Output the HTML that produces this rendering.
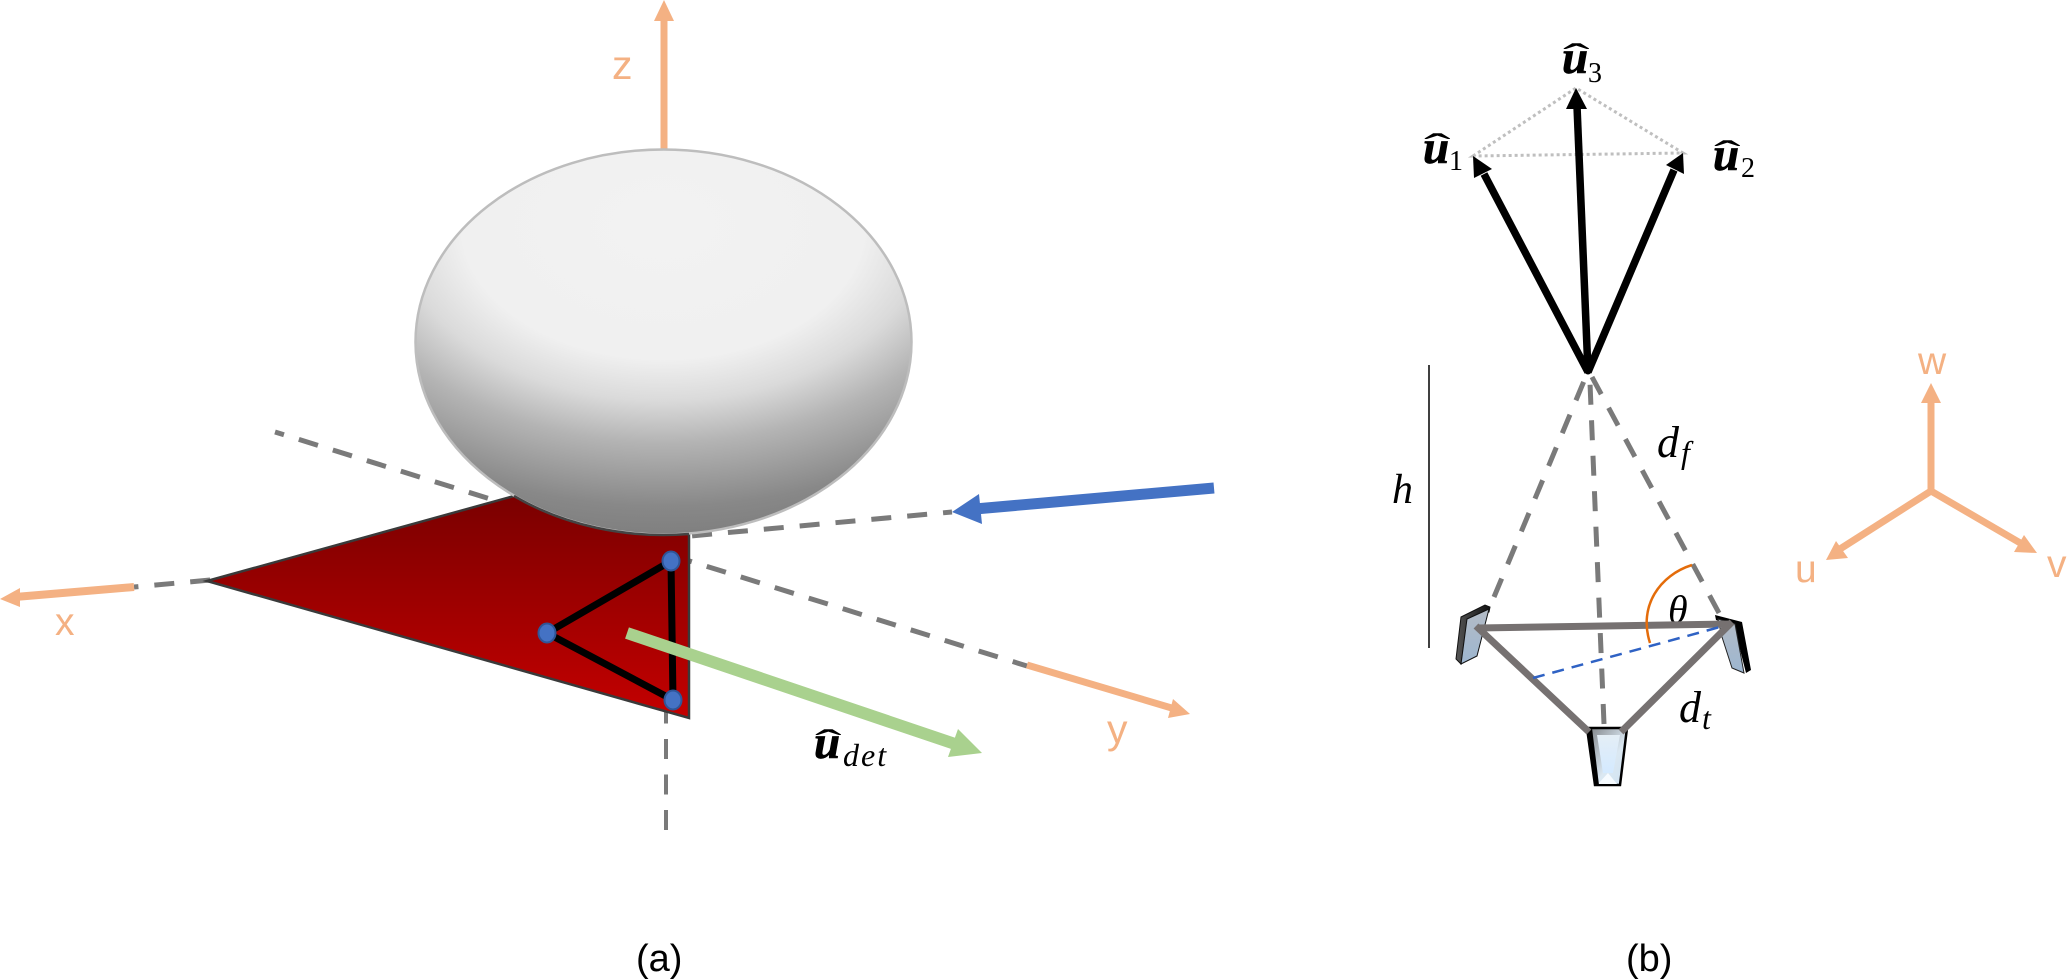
<!DOCTYPE html>
<html><head><meta charset="utf-8"><style>
html,body{margin:0;padding:0;background:#fff}
svg{display:block}
.o{fill:#f4b183}
.ol{font-family:"Liberation Sans",sans-serif;fill:#f4b183}
.m{font-family:"Liberation Serif",serif;font-style:italic;fill:#000}
.b{font-family:"Liberation Serif",serif;font-style:italic;font-weight:bold;fill:#000;stroke:#000;stroke-width:.7;font-size:47px}
.n{font-family:"Liberation Serif",serif;fill:#000;font-size:28px}
.cap{font-family:"Liberation Sans",sans-serif;font-size:38px;fill:#000}
</style></head><body>
<svg width="2067" height="979" viewBox="0 0 2067 979" xmlns="http://www.w3.org/2000/svg">
<defs>
<radialGradient id="eg" gradientUnits="userSpaceOnUse" cx="0" cy="0" r="1" gradientTransform="translate(663 225) scale(480 320)">
<stop offset="0" stop-color="#f2f2f2"/><stop offset=".42" stop-color="#f0f0f0"/><stop offset=".55" stop-color="#dadada"/><stop offset=".68" stop-color="#b4b4b4"/><stop offset=".88" stop-color="#888888"/><stop offset="1" stop-color="#7c7c7c"/>
</radialGradient>
<linearGradient id="rg" gradientUnits="userSpaceOnUse" x1="0" y1="496" x2="0" y2="718"><stop offset="0" stop-color="#7a0000"/><stop offset="1" stop-color="#c40000"/></linearGradient>
<linearGradient id="det" x1="0" y1="0" x2="0" y2="1"><stop offset="0" stop-color="#b4bcc6"/><stop offset="1" stop-color="#9db6d0"/></linearGradient>
<linearGradient id="dk" x1="0" y1="0" x2="1" y2="0"><stop offset="0" stop-color="#555"/><stop offset="1" stop-color="#111"/></linearGradient>
<linearGradient id="bev" x1="0" y1="0" x2="1" y2="1"><stop offset="0" stop-color="#7c8084"/><stop offset=".6" stop-color="#dbe8f2"/><stop offset="1" stop-color="#cfe2f2"/></linearGradient>
<linearGradient id="mid" x1="0" y1="0" x2="0" y2="1"><stop offset="0" stop-color="#e4eef6"/><stop offset="1" stop-color="#d4eaff"/></linearGradient>
</defs>

<!-- (a) dashed axes -->
<g fill="none" stroke="#7a7a7a" stroke-width="5">
<line x1="1027" y1="666" x2="275" y2="432" stroke-dasharray="20 15.6" stroke-dashoffset="5"/>
<line x1="952" y1="512" x2="134" y2="587" stroke-dasharray="20 16" stroke-dashoffset="11"/>
<line x1="666" y1="830" x2="666" y2="700" stroke-width="4" stroke-dasharray="20 15.5"/>
</g>

<!-- red triangle -->
<polygon points="207,581 514,496 689,534 689,718" fill="url(#rg)" stroke="#3a3a3a" stroke-width="2.5" stroke-linejoin="miter"/>

<!-- z axis -->
<rect x="660.5" y="20" width="7" height="132" class="o"/>
<polygon points="664,0 674,21 654,21" class="o"/>

<!-- ellipse -->
<ellipse cx="663.5" cy="342" rx="248" ry="192.5" fill="url(#eg)" stroke="#bdbdbd" stroke-width="2.5"/>
<path d="M514 496 A248 192.5 0 0 0 689 534" fill="none" stroke="#444" stroke-width="2.5"/>

<!-- sensor triangle -->
<g stroke="#000" stroke-width="7" fill="none" stroke-linejoin="miter">
<polygon points="671,561 547,633 673,700"/>
</g>
<g fill="#4472c4" stroke="#2f5597" stroke-width="2">
<ellipse cx="671" cy="561" rx="8.5" ry="9.5"/>
<ellipse cx="547" cy="633" rx="8.5" ry="9.5"/>
<ellipse cx="673" cy="700" rx="8.5" ry="9.5"/>
</g>

<!-- green arrow -->
<line x1="627" y1="633" x2="958" y2="745" stroke="#a9d18e" stroke-width="12"/>
<polygon points="982,753 958,729 948,757" fill="#a9d18e"/>

<!-- blue arrow -->
<line x1="1214" y1="488" x2="975" y2="509" stroke="#4472c4" stroke-width="11"/>
<polygon points="952,512 979,494 982,524" fill="#4472c4"/>

<!-- orange x -->
<line x1="134" y1="587" x2="15" y2="597" stroke="#f4b183" stroke-width="8"/>
<polygon points="0,599 20,588 20,607" class="o"/>

<!-- orange y -->
<line x1="1027" y1="665" x2="1175" y2="709" stroke="#f4b183" stroke-width="7"/>
<polygon points="1190,714 1173,699 1168,718" class="o"/>

<text x="612" y="79" class="ol" font-size="41">z</text>
<text x="55" y="635" class="ol" font-size="39">x</text>
<text x="1107" y="743" class="ol" font-size="41">y</text>

<text x="814" y="758" class="b">u</text>
<text x="815" y="756" class="n" transform="translate(815 756) scale(1.9 .9) translate(-815 -756)" style="font-size:42px">ˆ</text>
<text x="843" y="766" class="m" font-size="32" letter-spacing="2">det</text>

<!-- (b) dashed -->
<g fill="none" stroke="#7a7a7a" stroke-width="5">
<line x1="1494" y1="597" x2="1584" y2="381" stroke-dasharray="20 15.5"/>
<line x1="1604" y1="724" x2="1590" y2="383" stroke-dasharray="20 15.5"/>
<line x1="1719" y1="613" x2="1592" y2="377" stroke-dasharray="20 15.5"/>
</g>

<!-- dotted -->
<g fill="none" stroke="#bfbfbf" stroke-width="3" stroke-dasharray="3 3">
<polygon points="1473,156 1576,88 1683,153"/>
</g>

<!-- black arrows -->
<g stroke="#000" stroke-width="7.5" fill="none">
<line x1="1588" y1="372" x2="1484" y2="174"/>
<line x1="1588" y1="372" x2="1577" y2="106"/>
<line x1="1588" y1="372" x2="1674" y2="170"/>
</g>
<g fill="#000">
<polygon points="1473,156 1474,178 1492,169"/>
<polygon points="1576,88 1566,109 1587,109"/>
<polygon points="1683,153 1666,165 1684,174"/>
<circle cx="1588" cy="371" r="3.5"/>
</g>

<text x="1423" y="163" class="b">u</text>
<text x="1424" y="160" class="n" transform="translate(1424 160) scale(1.9 .9) translate(-1424 -160)" style="font-size:42px">ˆ</text>
<text x="1449" y="170" class="n">1</text>
<text x="1562" y="73" class="b">u</text>
<text x="1563" y="70" class="n" transform="translate(1563 70) scale(1.9 .9) translate(-1563 -70)" style="font-size:42px">ˆ</text>
<text x="1588" y="82" class="n">3</text>
<text x="1713" y="170" class="b">u</text>
<text x="1714" y="167" class="n" transform="translate(1714 167) scale(1.9 .9) translate(-1714 -167)" style="font-size:42px">ˆ</text>
<text x="1741" y="177" class="n">2</text>

<!-- h line -->
<line x1="1429" y1="365" x2="1429" y2="648" stroke="#404040" stroke-width="2"/>
<text x="1392" y="503" class="m" font-size="42">h</text>
<text x="1657" y="457" class="m" font-size="44">d</text>
<text x="1681" y="463" class="m" font-size="32">f</text>
<text x="1668" y="623" class="m" font-size="40">θ</text>
<text x="1679" y="722" class="m" font-size="44">d</text>
<text x="1702" y="729" class="m" font-size="32">t</text>

<!-- detectors -->
<polygon points="1461,617 1485,605 1490,607 1489,612 1467,621 1461,664 1456,659" fill="url(#dk)" stroke="#111" stroke-width="1"/>
<polygon points="1467,619 1489,609 1477,656 1461,664" fill="url(#det)" stroke="#111" stroke-width="1"/>

<polygon points="1715,615 1742,622 1751,670 1746,673 1734,626 1716,620" fill="#000"/>
<polygon points="1718,619 1735,624 1744,673 1732,668 1722,637" fill="url(#det)" stroke="#222" stroke-width="1"/>

<polygon points="1587,728 1627,728 1620,785 1595,785" fill="url(#bev)" stroke="#000" stroke-width="2.5"/>
<polygon points="1597,735 1620,735 1613,773 1603,773" fill="url(#mid)"/>
<polygon points="1598,784 1617,784 1608,773" fill="#f6fbff"/>
<polygon points="1587,728 1592,728 1599,785 1595,785" fill="#000"/>

<!-- gray triangle -->
<g stroke="#767171" stroke-width="7" fill="none">
<line x1="1478" y1="628" x2="1730" y2="624"/>
<line x1="1476" y1="626" x2="1589" y2="732"/>
<line x1="1732" y1="622" x2="1621" y2="732"/>
</g>

<!-- blue dashed + arc -->
<line x1="1533" y1="678" x2="1720" y2="627" stroke="#2f62c4" stroke-width="2.5" stroke-dasharray="12 8"/>
<path d="M1692 565 C1660 575 1638 606 1650 643" fill="none" stroke="#e46c0a" stroke-width="2.5"/>

<!-- uvw -->
<g stroke="#f4b183" stroke-width="7" fill="none">
<line x1="1931" y1="494" x2="1931" y2="400"/>
<line x1="1931" y1="491" x2="1840" y2="549"/>
<line x1="1931" y1="491" x2="2022" y2="544"/>
</g>
<polygon points="1931,383 1921,403 1941,403" class="o"/>
<polygon points="1826,560 1836,541 1848,558" class="o"/>
<polygon points="2037,553 2024,535 2014,552" class="o"/>
<text x="1918" y="374" class="ol" font-size="39">w</text>
<text x="1795" y="582" class="ol" font-size="39">u</text>
<text x="2047" y="577" class="ol" font-size="39">v</text>

<text x="636" y="971" class="cap">(a)</text>
<text x="1626" y="971" class="cap">(b)</text>
</svg>
</body></html>
